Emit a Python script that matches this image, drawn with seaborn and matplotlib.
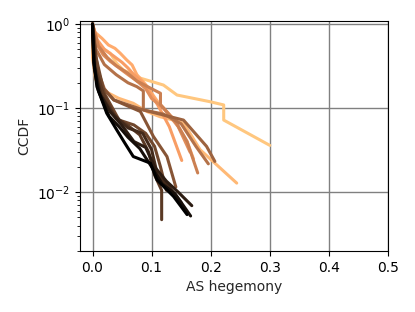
import numpy as np
import pandas as pd
import matplotlib
matplotlib.use("Agg")
import matplotlib.pyplot as plt
import seaborn as sns

# CCDF curves of AS hegemony, one per run (lightest first, darkest last)
hege_0 = [0, 0.005, 0.013, 0.03, 0.041, 0.052, 0.064, 0.081, 0.12, 0.143, 0.199, 0.222, 0.222, 0.30]
ccdf_0 = [1, 0.7, 0.54, 0.449, 0.34, 0.284, 0.26, 0.227, 0.188, 0.143, 0.119, 0.109, 0.072, 0.036]
hege_1 = [0, 0.0, 0.005, 0.02, 0.044, 0.069, 0.092, 0.114, 0.137, 0.154, 0.165, 0.182, 0.244]
ccdf_1 = [1, 0.4, 0.22, 0.16, 0.131, 0.114, 0.091, 0.079, 0.072, 0.066, 0.05, 0.032, 0.0128]
hege_2 = [0, 0.004, 0.016, 0.027, 0.038, 0.047, 0.058, 0.067, 0.075, 0.09, 0.11, 0.14, 0.16, 0.171]
ccdf_2 = [1, 0.8, 0.676, 0.563, 0.514, 0.449, 0.373, 0.326, 0.25, 0.19, 0.12, 0.07, 0.04, 0.0247]
hege_3 = [0, 0.008, 0.02, 0.035, 0.05, 0.06, 0.07, 0.085, 0.095, 0.11, 0.13, 0.151]
ccdf_3 = [1, 0.65, 0.5, 0.42, 0.35, 0.3, 0.25, 0.2, 0.16, 0.11, 0.06, 0.0238]
hege_4 = [0, 0.006, 0.018, 0.03, 0.045, 0.06, 0.075, 0.09, 0.1, 0.12, 0.145, 0.165]
ccdf_4 = [1, 0.6, 0.43, 0.36, 0.3, 0.25, 0.21, 0.17, 0.13, 0.1, 0.06, 0.03]
hege_5 = [0, 0.01, 0.025, 0.04, 0.06, 0.075, 0.1, 0.115, 0.115, 0.14, 0.16, 0.178]
ccdf_5 = [1, 0.55, 0.4, 0.32, 0.26, 0.21, 0.17, 0.15, 0.11, 0.07, 0.04, 0.0169]
hege_6 = [0, 0.006, 0.02, 0.04, 0.06, 0.075, 0.086, 0.086, 0.12, 0.15, 0.175, 0.196]
ccdf_6 = [1, 0.5, 0.33, 0.25, 0.2, 0.18, 0.16, 0.095, 0.085, 0.065, 0.035, 0.0217]
hege_7 = [0, 0.004, 0.02, 0.036, 0.086, 0.154, 0.193, 0.207]
ccdf_7 = [1, 0.35, 0.17, 0.125, 0.095, 0.072, 0.035, 0.0232]
hege_8 = [0, 0.005, 0.013, 0.036, 0.081, 0.103, 0.126, 0.141]
ccdf_8 = [1, 0.45, 0.188, 0.125, 0.091, 0.046, 0.0265, 0.0115]
hege_9 = [0, 0.006, 0.02, 0.045, 0.07, 0.09, 0.105, 0.115, 0.125]
ccdf_9 = [1, 0.4, 0.15, 0.072, 0.063, 0.05, 0.035, 0.02, 0.0105]
hege_10 = [0, 0.005, 0.018, 0.04, 0.06, 0.08, 0.095, 0.105, 0.117, 0.117]
ccdf_10 = [1, 0.3, 0.15, 0.075, 0.062, 0.048, 0.03, 0.016, 0.0105, 0.0047]
hege_11 = [0, 0.004, 0.015, 0.035, 0.06, 0.085, 0.1, 0.11, 0.13, 0.15]
ccdf_11 = [1, 0.28, 0.14, 0.085, 0.058, 0.05, 0.032, 0.016, 0.0115, 0.0075]
hege_12 = [0, 0.002, 0.012, 0.03, 0.05, 0.07, 0.09, 0.105, 0.125, 0.145, 0.168]
ccdf_12 = [1, 0.35, 0.15, 0.09, 0.062, 0.04, 0.034, 0.02, 0.0135, 0.01, 0.0069]
hege_13 = [0, 0.003, 0.01, 0.028, 0.045, 0.06, 0.08, 0.1, 0.118, 0.14, 0.166]
ccdf_13 = [1, 0.3, 0.16, 0.08, 0.06, 0.045, 0.033, 0.02, 0.0125, 0.0095, 0.0052]
hege_14 = [0, 0.002, 0.0074, 0.024, 0.041, 0.055, 0.069, 0.098, 0.109, 0.137, 0.16]
ccdf_14 = [1, 0.373, 0.18, 0.087, 0.055, 0.038, 0.0265, 0.0221, 0.014, 0.0089, 0.0054]

hege_runs = [hege_0, hege_1, hege_2, hege_3, hege_4, hege_5, hege_6, hege_7,
             hege_8, hege_9, hege_10, hege_11, hege_12, hege_13, hege_14]
ccdf_runs = [ccdf_0, ccdf_1, ccdf_2, ccdf_3, ccdf_4, ccdf_5, ccdf_6, ccdf_7,
             ccdf_8, ccdf_9, ccdf_10, ccdf_11, ccdf_12, ccdf_13, ccdf_14]

rows = []
for i, (xs, ys) in enumerate(zip(hege_runs, ccdf_runs)):
    for k, (x, y) in enumerate(zip(xs, ys)):
        rows.append({"run": i, "step": k, "hegemony": x, "ccdf": y})
df = pd.DataFrame(rows)

sns.set_style("white")
plt.rcParams["font.family"] = ["DejaVu Sans"]

fig, ax = plt.subplots(figsize=(4.15, 3.12), dpi=100)
fig.subplots_adjust(left=0.193, right=0.935, top=0.933, bottom=0.196)

sns.lineplot(data=df, x="hegemony", y="ccdf", hue="run", units="run",
             estimator=None, sort=False, palette="copper_r", linewidth=2.2,
             legend=False, ax=ax)

ax.set_yscale("log")
ax.set_xlim(-0.021, 0.5)
ax.set_ylim(0.002, 1.09)
ax.set_xticks([0.0, 0.1, 0.2, 0.3, 0.4, 0.5])
ax.grid(True, which="major", color="gray", linewidth=1)
ax.set_axisbelow(True)
for s in ax.spines.values():
    s.set_color("black")
    s.set_linewidth(0.8)
ax.tick_params(axis="both", which="both", direction="out", left=True, bottom=True,
               labelsize=10, colors="black")
ax.tick_params(axis="y", which="minor", length=2)
ax.set_xlabel("AS hegemony", fontsize=10)
ax.set_ylabel("CCDF", fontsize=10)

fig.savefig("out.png", dpi=100)
